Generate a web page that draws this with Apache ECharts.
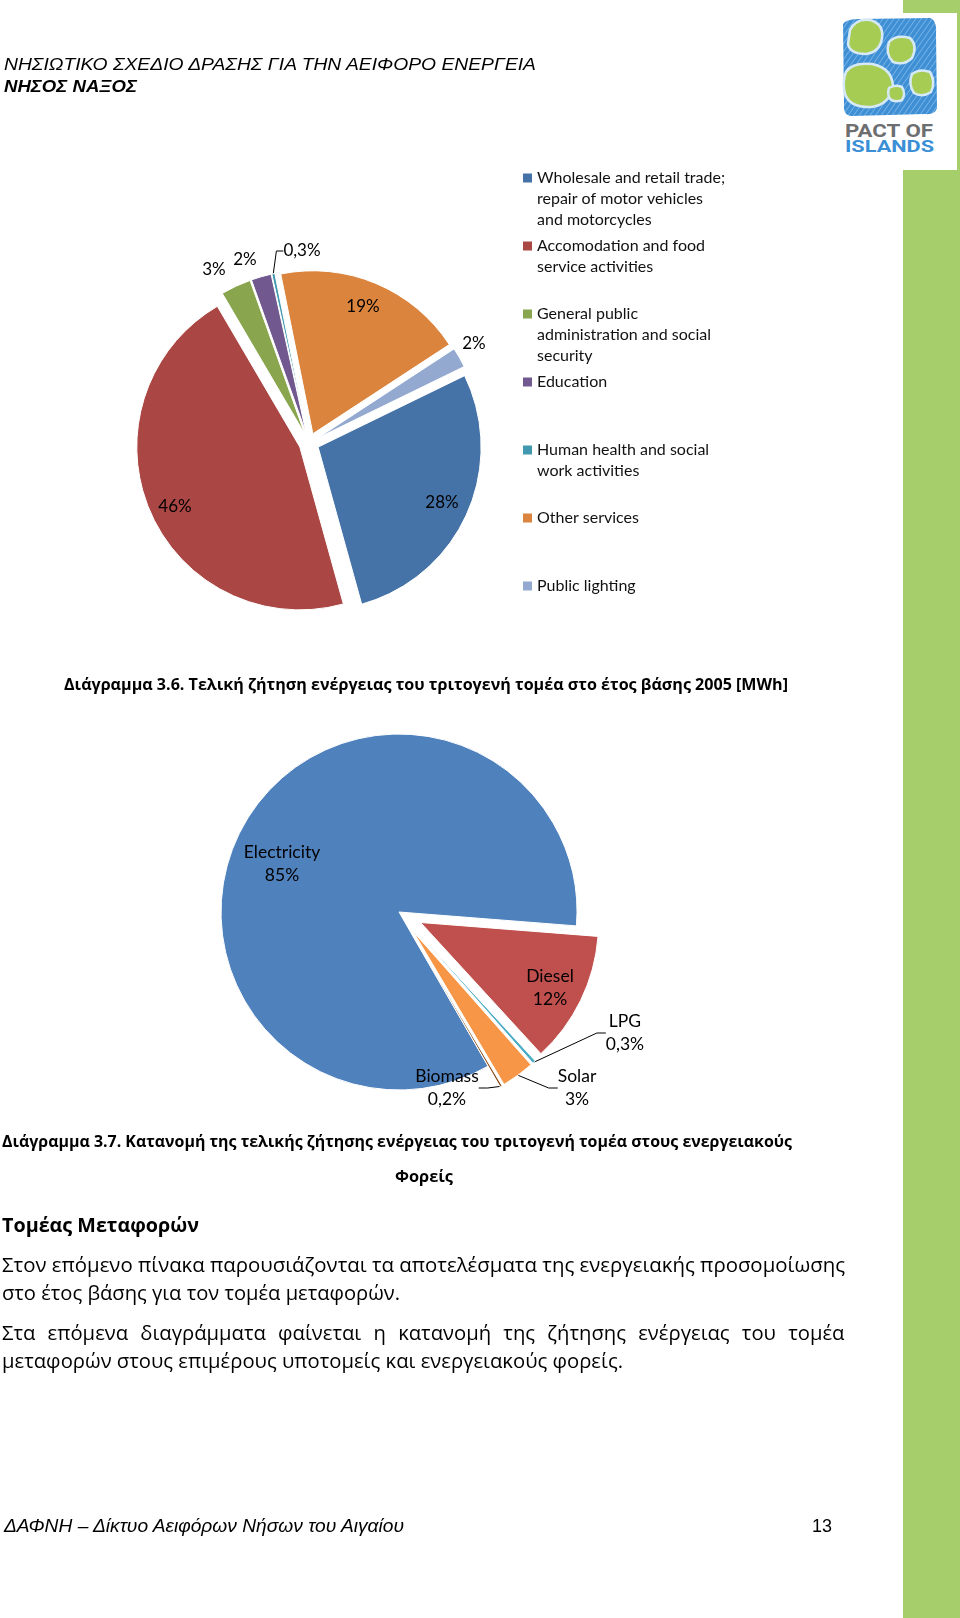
<!DOCTYPE html>
<html>
<head>
<meta charset="utf-8">
<script src="https://cdn.jsdelivr.net/npm/echarts@6/dist/echarts.min.js"></script>
<style>
  html, body { margin: 0; padding: 0; background: #ffffff; }
  #page { position: relative; width: 960px; height: 1618px; overflow: hidden; background: #fff; }
  #deco, #chart, #overlay { position: absolute; left: 0; top: 0; }
  #chart { width: 960px; height: 1618px; }
  #overlay { pointer-events: none; }
</style>
</head>
<body>
<div id="page">
  <svg id="deco" width="960" height="1618" xmlns="http://www.w3.org/2000/svg">
    <defs>
      <pattern id="hatch" width="4.5" height="4.5" patternUnits="userSpaceOnUse" patternTransform="rotate(35)">
        <rect width="4.5" height="4.5" fill="#3f8fd5"/>
        <line x1="0" y1="0" x2="0" y2="4.5" stroke="#86bdec" stroke-width="1.4"/>
      </pattern>
    </defs>
    <rect x="903" y="0" width="57" height="1618" fill="#a6ce6a"/>
    <rect x="903" y="13" width="54" height="157" fill="#ffffff"/>
    <path d="M843,24 Q846,19 860,19 L930,18 Q937,20 936,34 L937,108 Q935,115 925,114 L852,116 Q843,116 844,104 Z" fill="url(#hatch)"/>
    <g fill="#a7cc53" stroke="#d6e9f6" stroke-width="2.5">
      <path d="M850,30 Q856,18 870,20 Q884,24 882,38 Q880,52 866,54 Q850,54 848,44 Z"/>
      <path d="M889,42 Q896,34 910,38 Q918,46 912,58 Q904,66 893,62 Q885,54 889,42 Z"/>
      <path d="M846,72 Q852,62 872,64 Q892,68 893,86 Q890,104 872,107 Q850,108 845,94 Q842,82 846,72 Z"/>
      <path d="M912,74 Q920,68 930,72 Q936,82 931,92 Q922,98 914,93 Q908,84 912,74 Z"/>
      <path d="M889,88 Q895,84 902,87 Q906,94 902,100 Q895,103 890,99 Q887,94 889,88 Z"/>
    </g>
    <text x="845" y="137" font-family="Roboto, 'Liberation Sans', sans-serif" font-weight="bold" font-size="19" fill="#6d6e70" textLength="88" lengthAdjust="spacingAndGlyphs">PACT OF</text>
    <text x="845" y="152" font-family="Roboto, 'Liberation Sans', sans-serif" font-weight="bold" font-size="16" fill="#3b8fd6" textLength="89" lengthAdjust="spacingAndGlyphs">ISLANDS</text>
  </svg>
  <div id="chart"></div>
  <svg id="overlay" width="960" height="1618" xmlns="http://www.w3.org/2000/svg">
    <g font-family="'Liberation Sans', Arial, sans-serif" fill="#000">
      <text x="4" y="70" font-size="17" font-style="italic" textLength="532" lengthAdjust="spacingAndGlyphs">ΝΗΣΙΩΤΙΚΟ ΣΧΕΔΙΟ ΔΡΑΣΗΣ ΓΙΑ ΤΗΝ ΑΕΙΦΟΡΟ ΕΝΕΡΓΕΙΑ</text>
      <text x="4" y="92" font-size="17" font-style="italic" font-weight="bold" textLength="133" lengthAdjust="spacingAndGlyphs">ΝΗΣΟΣ ΝΑΞΟΣ</text>
      <text x="4" y="1532" font-size="18" font-style="italic" textLength="400" lengthAdjust="spacingAndGlyphs">ΔΑΦΝΗ – Δίκτυο Αειφόρων Νήσων του Αιγαίου</text>
      <text x="812" y="1532" font-size="18" textLength="20" lengthAdjust="spacingAndGlyphs">13</text>
    </g>
    <g font-family="'Open Sans', 'Noto Sans', sans-serif" fill="#000">
      <text x="64" y="690" font-size="15.5" font-weight="bold" textLength="724" lengthAdjust="spacingAndGlyphs">Διάγραμμα 3.6. Τελική ζήτηση ενέργειας του τριτογενή τομέα στο έτος βάσης 2005 [MWh]</text>
      <text x="2" y="1147" font-size="15.5" font-weight="bold" textLength="790" lengthAdjust="spacingAndGlyphs">Διάγραμμα 3.7. Κατανομή της τελικής ζήτησης ενέργειας του τριτογενή τομέα στους ενεργειακούς</text>
      <text x="395" y="1182" font-size="15.5" font-weight="bold" textLength="58" lengthAdjust="spacingAndGlyphs">Φορείς</text>
      <text x="2" y="1232" font-size="20" font-weight="bold" textLength="197" lengthAdjust="spacingAndGlyphs">Τομέας Μεταφορών</text>
      <text x="2" y="1272" font-size="20" textLength="843" lengthAdjust="spacingAndGlyphs">Στον επόμενο πίνακα παρουσιάζονται τα αποτελέσματα της ενεργειακής προσομοίωσης</text>
      <text x="2" y="1300" font-size="20" textLength="398" lengthAdjust="spacingAndGlyphs">στο έτος βάσης για τον τομέα μεταφορών.</text>
      <text id="just1" x="2" y="1340" font-size="20">Στα επόμενα διαγράμματα φαίνεται η κατανομή της ζήτησης ενέργειας του τομέα</text>
      <text id="last2" x="2" y="1368" font-size="20">μεταφορών στους επιμέρους υποτομείς και ενεργειακούς φορείς.</text>
    </g>
  </svg>
</div>
<script>
// ---------- Data: chart 3.6 (tertiary sector final energy demand, 2005) ----------
const SECTOR_CATEGORIES = [
  'Wholesale and retail trade;\nrepair of motor vehicles\nand motorcycles',
  'Accomodation and food\nservice activities',
  'General public\nadministration and social\nsecurity',
  'Education',
  'Human health and social\nwork activities',
  'Other services',
  'Public lighting'
];
const SECTOR_VALUES = [28, 46, 3, 2, 0.3, 19, 2];
const SECTOR_COLORS = ['#4572a7', '#aa4643', '#89a54e', '#71588f', '#4198af', '#db843d', '#93a9cf'];

// ---------- Data: chart 3.7 (energy carriers) ----------
const CARRIER_CATEGORIES = ['Electricity', 'Diesel', 'LPG', 'Solar', 'Biomass'];
const CARRIER_VALUES = [85, 12, 0.3, 3, 0.2];
const CARRIER_COLORS = ['#4f81bd', '#c0504d', '#4bacc6', '#f79646', '#8a4b16'];

// ---------- Layout (label anchor centres) ----------
const SECTOR_LABEL_POS = [[442, 503], [175, 507], [214, 270], [245, 260], [302, 251], [363, 307], [474, 344]];
const CARRIER_LABEL_POS = [[282, 864], [550, 988], [625, 1033], [577, 1088], [447, 1088]];

const pct = v => String(v).replace('.', ',') + '%';
const LABEL_FONT = 'Lato, "Open Sans", sans-serif';

// One pie series per slice so that each slice can be pulled out along its own bisector
function explodedPie(cfg) {
  const total = cfg.values.reduce((a, b) => a + b, 0);
  let acc = 0;
  return cfg.values.map(function (v, i) {
    const midDeg = cfg.startAngle - (acc + v / 2) / total * 360;
    acc += v;
    const off = cfg.offset(i);
    const rad = midDeg * Math.PI / 180;
    const center = [cfg.center[0] + off * Math.cos(rad), cfg.center[1] - off * Math.sin(rad)];
    return {
      type: 'pie',
      name: cfg.name + ' ' + i,
      center: center,
      radius: cfg.radius,
      startAngle: cfg.startAngle,
      clockwise: true,
      avoidLabelOverlap: false,
      silent: true,
      emphasis: { disabled: true },
      label: Object.assign({ show: false, color: '#000', fontFamily: LABEL_FONT }, cfg.label),
      labelLine: { show: false, length: 6, length2: cfg.length2, lineStyle: { color: '#000', width: 1 } },
      labelLayout: function (p) {
        const xy = cfg.labelPos[p.dataIndex];
        return { x: xy[0], y: xy[1], align: 'center', verticalAlign: 'middle' };
      },
      data: cfg.categories.map(function (n, j) {
        const own = j === i;
        return {
          name: n,
          value: cfg.values[j],
          itemStyle: own
            ? { color: cfg.colors[j], borderColor: '#fff', borderWidth: 1 }
            : { color: 'rgba(0,0,0,0)', borderWidth: 0 },
          label: { show: own, position: cfg.values[j] >= 10 ? 'inside' : 'outside' },
          labelLine: { show: own && cfg.showLine(j) }
        };
      })
    };
  });
}

const sectorSeries = explodedPie({
  name: 'Sectors',
  categories: SECTOR_CATEGORIES,
  values: SECTOR_VALUES,
  colors: SECTOR_COLORS,
  center: [309, 443],
  radius: 163,
  startAngle: 26,
  offset: () => 10,
  length2: 7,
  labelPos: SECTOR_LABEL_POS,
  showLine: j => SECTOR_VALUES[j] < 1,
  label: { fontSize: 17, formatter: p => pct(p.value) }
});

const carrierSeries = explodedPie({
  name: 'Carriers',
  categories: CARRIER_CATEGORIES,
  values: CARRIER_VALUES,
  colors: CARRIER_COLORS,
  center: [399, 912],
  radius: 178,
  startAngle: -60,
  offset: i => (i === 0 ? 0 : 24),
  length2: 9,
  labelPos: CARRIER_LABEL_POS,
  showLine: j => CARRIER_VALUES[j] < 10,
  label: { fontSize: 17.5, lineHeight: 23, formatter: p => p.name + '\n' + pct(p.value) }
});

const chart = echarts.init(document.getElementById('chart'), null, { renderer: 'canvas', width: 960, height: 1618 });

chart.setOption({
  animation: false,
  backgroundColor: 'transparent',
  legend: {
    orient: 'vertical',
    left: 523,
    top: 125.5,
    padding: 0,
    itemWidth: 9,
    itemHeight: 9,
    itemGap: -37,
    icon: 'rect',
    selectedMode: false,
    data: SECTOR_CATEGORIES.map((n, i) => ({ name: n, itemStyle: { color: SECTOR_COLORS[i], borderWidth: 0 } })),
    formatter: function (name) {
      const lines = name.split('\n');
      const pad = [];
      for (let i = lines.length; i < 3; i++) pad.push('');
      return ['', ''].concat(lines, pad).join('\n');
    },
    textStyle: { fontFamily: LABEL_FONT, fontSize: 16, lineHeight: 21, color: '#111' }
  },
  series: sectorSeries.concat(carrierSeries)
});

// justify the full line of the second paragraph, keep glyph scale of its last line
(function () {
  const l1 = document.getElementById('just1');
  const l2 = document.getElementById('last2');
  const target1 = 843, target2 = 621;
  const n2 = l2.getComputedTextLength();
  const s = target2 / n2;
  l2.setAttribute('textLength', target2);
  l2.setAttribute('lengthAdjust', 'spacingAndGlyphs');
  const n1 = l1.getComputedTextLength();
  const spaces = (l1.textContent.match(/ /g) || []).length;
  const ws = (target1 / s - n1) / spaces;
  l1.setAttribute('word-spacing', ws.toFixed(2));
  l1.setAttribute('transform', 'translate(2,0) scale(' + s.toFixed(4) + ',1) translate(-2,0)');
})();
</script>
</body>
</html>
